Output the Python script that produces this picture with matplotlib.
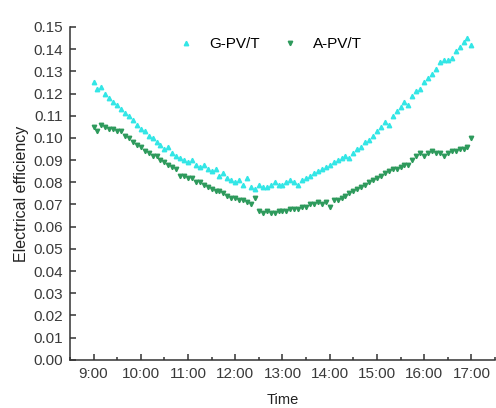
import matplotlib
matplotlib.use('Agg')
import matplotlib.pyplot as plt
from matplotlib.ticker import MultipleLocator, FuncFormatter
import numpy as np

# sampling every 5 min from 9:00 to 17:00, in minutes after 9:00
minutes = np.arange(0, 481, 5)

g_pvt = [0.125, 0.122, 0.123, 0.120, 0.118, 0.116, 0.115, 0.113, 0.111, 0.110, 0.108, 0.106, 0.104,
         0.103, 0.101, 0.100, 0.098, 0.097, 0.095, 0.096, 0.093, 0.092, 0.091, 0.090, 0.089,
         0.090, 0.088, 0.087, 0.088, 0.086, 0.085, 0.086, 0.083, 0.084, 0.082, 0.081, 0.080,
         0.081, 0.079, 0.082, 0.078, 0.077, 0.079, 0.078, 0.078, 0.079, 0.080, 0.079, 0.079,
         0.080, 0.081, 0.080, 0.079, 0.081, 0.082, 0.083, 0.084, 0.085, 0.086, 0.087, 0.088,
         0.089, 0.090, 0.091, 0.092, 0.091, 0.093, 0.095, 0.096, 0.098, 0.099, 0.101, 0.103,
         0.105, 0.107, 0.106, 0.110, 0.112, 0.114, 0.116, 0.115, 0.119, 0.121, 0.122, 0.125,
         0.127, 0.129, 0.131, 0.134, 0.135, 0.135, 0.136, 0.139, 0.141, 0.143, 0.145, 0.142]

a_pvt = [0.105, 0.103, 0.106, 0.105, 0.104, 0.104, 0.103, 0.103, 0.101, 0.100, 0.098, 0.097, 0.096,
         0.094, 0.093, 0.092, 0.092, 0.090, 0.089, 0.088, 0.087, 0.086, 0.083, 0.083, 0.082,
         0.082, 0.080, 0.080, 0.079, 0.078, 0.077, 0.076, 0.076, 0.075, 0.074, 0.073, 0.073,
         0.072, 0.072, 0.071, 0.070, 0.073, 0.067, 0.066, 0.067, 0.066, 0.066, 0.067, 0.067,
         0.067, 0.068, 0.068, 0.068, 0.069, 0.069, 0.070, 0.070, 0.071, 0.070, 0.071, 0.069,
         0.072, 0.072, 0.073, 0.074, 0.075, 0.076, 0.077, 0.078, 0.079, 0.080, 0.081, 0.082,
         0.083, 0.084, 0.085, 0.086, 0.086, 0.087, 0.088, 0.088, 0.090, 0.092, 0.093, 0.092,
         0.093, 0.094, 0.093, 0.093, 0.092, 0.093, 0.094, 0.094, 0.095, 0.095, 0.096, 0.100]

hours = 9 + minutes / 60.0

plt.rcParams['font.family'] = ['Liberation Sans', 'DejaVu Sans']

fig = plt.figure(figsize=(4.96, 4.08), dpi=100)
ax = fig.add_axes([0.141, 0.118, 0.857, 0.816])

ax.plot(hours, g_pvt, linestyle='none', marker='^', markersize=3.2,
        color='#33E6E6', label='G-PV/T')
ax.plot(hours, a_pvt, linestyle='none', marker='v', markersize=3.2,
        color='#2E9A5C', label='A-PV/T')

ax.set_xlim(8.5, 17.5)
ax.set_ylim(0, 0.15)
ax.xaxis.set_major_locator(MultipleLocator(1))
ax.xaxis.set_minor_locator(MultipleLocator(0.5))
ax.xaxis.set_major_formatter(FuncFormatter(lambda v, p: f"{int(round(v))}:00"))
ax.yaxis.set_major_locator(MultipleLocator(0.01))
ax.yaxis.set_major_formatter(FuncFormatter(lambda v, p: f"{v:.2f}"))

for s in ['top', 'right']:
    ax.spines[s].set_visible(False)
for s in ['left', 'bottom']:
    ax.spines[s].set_linewidth(1.1)
    ax.spines[s].set_color('#333333')

ax.tick_params(axis='both', which='major', direction='in', length=4, width=1.1,
               labelsize=11, colors='#333333', labelcolor='#3a3a3a')
ax.tick_params(axis='x', which='minor', direction='in', length=2, width=1.1, colors='#333333')
ax.tick_params(axis='x', which='major', pad=5)
ax.tick_params(axis='y', which='major', pad=5)

ax.set_xlabel('Time', fontsize=10.5, color='#222222', labelpad=9)
ax.set_ylabel('Electrical efficiency', fontsize=11.5, color='#222222', labelpad=3)

# legend sits near the top, a bit left of centre
ax.legend(loc='upper center', bbox_to_anchor=(0.47, 1.01), ncol=2, frameon=False,
          fontsize=11, handlelength=1.2, handletextpad=0.9, columnspacing=1.4)

plt.savefig('out.png', dpi=100)
